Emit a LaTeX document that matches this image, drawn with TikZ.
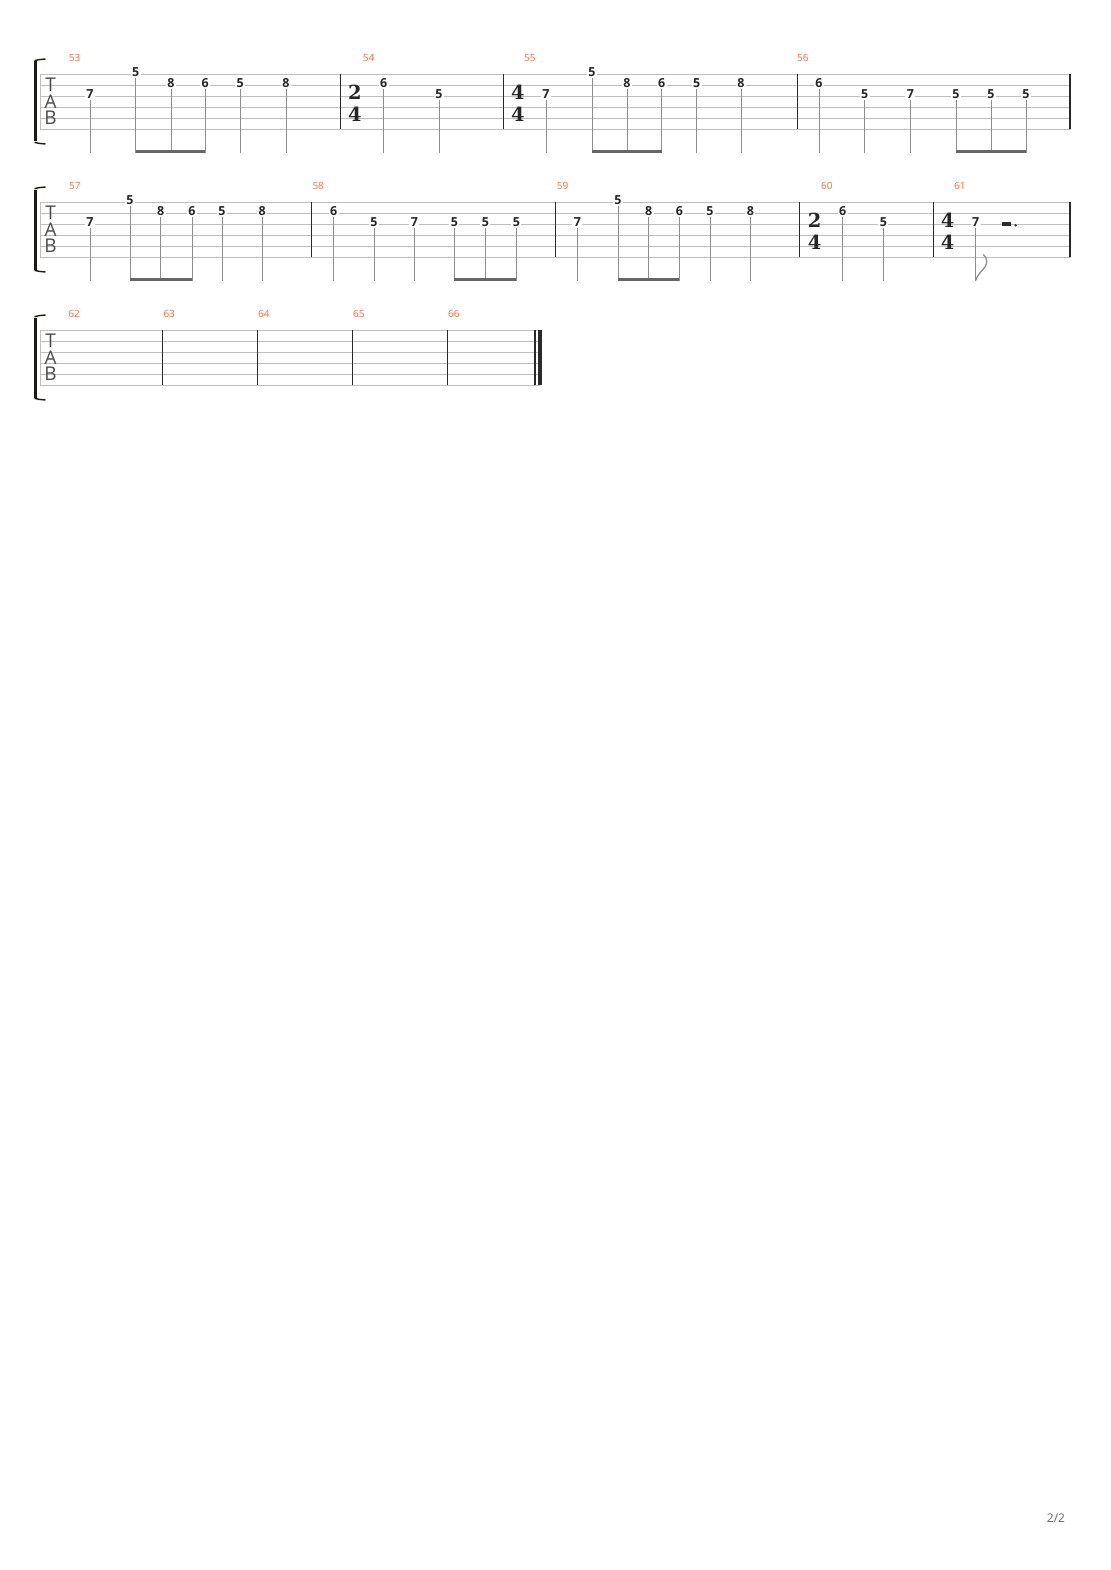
\documentclass[tikz,border=0pt]{standalone}
\usepackage{fontspec}
\setsansfont{Open Sans}
\newfontfamily\sigfont{DejaVu Serif}
\usepackage{xcolor}
\usepackage{tikz}
\usetikzlibrary{positioning}
\definecolor{barnum}{HTML}{FF6A3D}
\definecolor{staffgray}{HTML}{BEBEBE}
\definecolor{stemgray}{HTML}{8E8E8E}
\definecolor{beamgray}{HTML}{666666}
\definecolor{barblack}{HTML}{2A2A2A}
\definecolor{bracketc}{HTML}{1C1C10}
\definecolor{pagegray}{HTML}{666666}
\tikzset{
  fret/.style={fill=white, inner xsep=1.5bp, inner ysep=1bp, text=black!85, font=\sffamily\bfseries\fontsize{12.5}{12.5}\selectfont},
  barnumber/.style={anchor=west, inner sep=0pt, text=barnum, font=\sffamily\fontsize{10}{10}\selectfont},
  clef/.style={inner sep=0pt, text=black!70, font=\sffamily\fontsize{19}{19}\selectfont},
  timesig/.style={inner sep=0pt, text=black!85, font=\sigfont\bfseries\fontsize{19.5}{19.5}\selectfont},
  staffline/.style={draw=staffgray, line width=0.9bp},
  barline/.style={draw=barblack, line width=1.2bp},
  stem/.style={draw=stemgray, line width=1bp},
  beam/.style={draw=beamgray, line width=2.8bp},
  bracket/.style={draw=bracketc, line width=3bp}
}
\begin{document}
\begin{tikzpicture}[x=1bp, y=-1bp]
  \useasboundingbox[fill=white] (0,0) rectangle (1110,1570);

  % staves, brackets and clefs
  \foreach \r/\top/\xend in {1/74/1070.5, 2/202/1070.5, 3/330/540} {
    \foreach \s in {0,...,5}
      \draw[staffline] (40,\top+\s*11) -- (\xend,\top+\s*11);
    \draw[staffline] (40,\top) -- (40,\top+55);
    \draw[bracket] (35.5,\top-12.5) -- (35.5,\top+67.5);
    \draw[draw=bracketc, line width=1.4bp] (34.5,\top-13.3) .. controls (38,\top-14.3) .. (45.5,\top-15);
    \draw[draw=bracketc, line width=1.4bp] (34.5,\top+68.3) .. controls (38,\top+69.3) .. (45.5,\top+70);
    \node[clef] (t\r) at (50.5,\top+10.5) {T};
    \node[clef] (a\r) at (50.5,\top+27.5) {A};
    \node[clef] (b\r) at (50.5,\top+44) {B};
  }

  % barlines
  \foreach \x in {340.7, 503.3, 797.3, 1070}
    \draw[barline] (\x,74) -- (\x,129);
  \foreach \x in {311.7, 555.3, 799.3, 933.3, 1070}
    \draw[barline] (\x,202) -- (\x,257);
  \foreach \x in {162.3, 257.3, 352.3, 447.3, 535}
    \draw[barline] (\x,330) -- (\x,385);
  \draw[draw=barblack, line width=4bp] (540,330) -- (540,385);

  % bar numbers
  \foreach \n/\x/\y in {53/68.7/58.3, 54/362.7/58.3, 55/524/58.3, 56/797/58.3,
                        57/69/186.3, 58/312.3/186.3, 59/556.7/186.3, 60/821/186.3, 61/954/186.3,
                        62/68.3/314.3, 63/163.3/314.3, 64/258/314.3, 65/353/314.3, 66/448/314.3}
    \node[barnumber] (m\n) at (\x,\y) {\n};

  % time signatures
  \node[timesig] (ts54a) at (355,92) {2};
  \node[timesig] (ts54b) at (355,114) {4};
  \node[timesig] (ts55a) at (518,92) {4};
  \node[timesig] (ts55b) at (518,114) {4};
  \node[timesig] (ts60a) at (814.5,220) {2};
  \node[timesig] (ts60b) at (814.5,242) {4};
  \node[timesig] (ts61a) at (947.7,220) {4};
  \node[timesig] (ts61b) at (947.7,242) {4};

  % row 1 notes
  \foreach \nm/\x/\s/\f in {a/90/3/7, b/135.7/1/5, c/171/2/8, d/205.3/2/6, e/240.3/2/5, f/286/2/8,
                            g/383.7/2/6, h/439/3/5,
                            i/546/3/7, j/592/1/5, k/627/2/8, l/661.7/2/6, m/696.7/2/5, n/741/2/8,
                            o/819/2/6, p/864.7/3/5, q/910.3/3/7, r/956/3/5, s/991/3/5, t/1026/3/5} {
    \node[fret] (r1\nm) at (\x,{74+(\s-1)*11-1.5}) {\f};
    \coordinate (r1\nm-e) at (\x,152.5);
    \draw[stem] (r1\nm) -- (r1\nm-e);
  }
  \draw[beam] ([yshift=1.2bp]r1b-e) -- ([yshift=1.2bp]r1d-e);
  \draw[beam] ([yshift=1.2bp]r1j-e) -- ([yshift=1.2bp]r1l-e);
  \draw[beam] ([yshift=1.2bp]r1r-e) -- ([yshift=1.2bp]r1t-e);

  % row 2 notes
  \foreach \nm/\x/\s/\f in {a/90/3/7, b/130/1/5, c/160.7/2/8, d/192/2/6, e/222/2/5, f/262.3/2/8,
                            g/333.7/2/6, h/374/3/5, i/414.3/3/7, j/454.3/3/5, k/485.3/3/5, l/516.3/3/5,
                            m/577.3/3/7, n/618/1/5, o/648.7/2/8, p/679.3/2/6, q/710/2/5, r/750.3/2/8,
                            s/842.7/2/6, t/883.3/3/5,
                            u/975.7/3/7} {
    \node[fret] (r2\nm) at (\x,{202+(\s-1)*11-1.5}) {\f};
    \coordinate (r2\nm-e) at (\x,280.5);
    \draw[stem] (r2\nm) -- (r2\nm-e);
  }
  \draw[beam] ([yshift=1.2bp]r2b-e) -- ([yshift=1.2bp]r2d-e);
  \draw[beam] ([yshift=1.2bp]r2j-e) -- ([yshift=1.2bp]r2l-e);
  \draw[beam] ([yshift=1.2bp]r2n-e) -- ([yshift=1.2bp]r2p-e);
  % flag and dotted half rest, bar 61
  \draw[stem, line width=1.3bp] (r2u-e) .. controls (978,272) and (987,268) .. (986.8,262)
    .. controls (986.6,258.5) and (985.5,256.5) .. (983.3,254.5);
  \fill[barblack] (1001.7,221.7) rectangle (1010.7,225.9);
  \fill[barblack] (1015.7,225.3) circle (1.3);

  % page number
  \node[inner sep=0pt, text=pagegray, font=\sffamily\fontsize{12}{12}\selectfont] (page) at (1056,1518.5) {2/2};
\end{tikzpicture}
\end{document}
